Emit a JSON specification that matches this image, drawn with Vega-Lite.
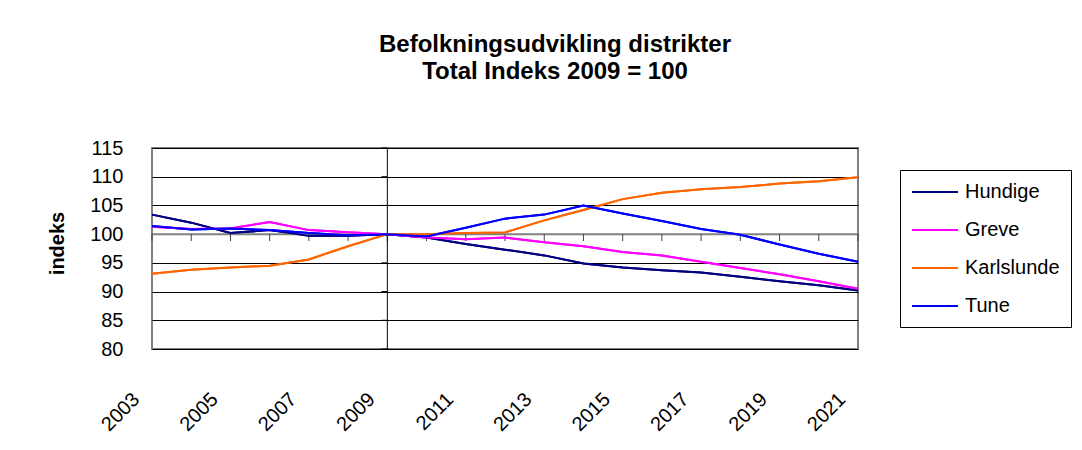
{
  "$schema": "https://vega.github.io/schema/vega-lite/v6.json",
  "autosize": "none",
  "width": 706,
  "height": 201,
  "padding": {"left": 152, "top": 148, "right": 224, "bottom": 101},
  "background": "white",
  "config": {
    "font": "Liberation Sans",
    "view": {"stroke": "#808080", "strokeWidth": 2},
    "axisY": {"tickCount": 8, "labelOverlap": false, "labelFlush": false}
  },
  "title": {
    "text": ["Befolkningsudvikling distrikter", "Total Indeks 2009 = 100"],
    "font": "Liberation Sans",
    "fontSize": 24,
    "fontWeight": "bold",
    "color": "black",
    "lineHeight": 27,
    "anchor": "middle",
    "dx": 50,
    "offset": 54
  },
  "datasets": {
    "series": [
      {"year": 2003, "series": "Hundige", "value": 103.4},
      {"year": 2004, "series": "Hundige", "value": 102.0},
      {"year": 2005, "series": "Hundige", "value": 100.2},
      {"year": 2006, "series": "Hundige", "value": 100.7},
      {"year": 2007, "series": "Hundige", "value": 99.7},
      {"year": 2008, "series": "Hundige", "value": 99.7},
      {"year": 2009, "series": "Hundige", "value": 100.0},
      {"year": 2010, "series": "Hundige", "value": 99.4},
      {"year": 2011, "series": "Hundige", "value": 98.3},
      {"year": 2012, "series": "Hundige", "value": 97.3},
      {"year": 2013, "series": "Hundige", "value": 96.3},
      {"year": 2014, "series": "Hundige", "value": 94.9},
      {"year": 2015, "series": "Hundige", "value": 94.2},
      {"year": 2016, "series": "Hundige", "value": 93.7},
      {"year": 2017, "series": "Hundige", "value": 93.3},
      {"year": 2018, "series": "Hundige", "value": 92.6},
      {"year": 2019, "series": "Hundige", "value": 91.8},
      {"year": 2020, "series": "Hundige", "value": 91.1},
      {"year": 2021, "series": "Hundige", "value": 90.2},
      {"year": 2003, "series": "Greve", "value": 101.3},
      {"year": 2004, "series": "Greve", "value": 100.9},
      {"year": 2005, "series": "Greve", "value": 101.0},
      {"year": 2006, "series": "Greve", "value": 102.1},
      {"year": 2007, "series": "Greve", "value": 100.7},
      {"year": 2008, "series": "Greve", "value": 100.35},
      {"year": 2009, "series": "Greve", "value": 100.0},
      {"year": 2010, "series": "Greve", "value": 99.4},
      {"year": 2011, "series": "Greve", "value": 99.1},
      {"year": 2012, "series": "Greve", "value": 99.4},
      {"year": 2013, "series": "Greve", "value": 98.6},
      {"year": 2014, "series": "Greve", "value": 97.9},
      {"year": 2015, "series": "Greve", "value": 96.9},
      {"year": 2016, "series": "Greve", "value": 96.3},
      {"year": 2017, "series": "Greve", "value": 95.2},
      {"year": 2018, "series": "Greve", "value": 94.1},
      {"year": 2019, "series": "Greve", "value": 93.0},
      {"year": 2020, "series": "Greve", "value": 91.8},
      {"year": 2021, "series": "Greve", "value": 90.5},
      {"year": 2003, "series": "Karlslunde", "value": 93.1},
      {"year": 2004, "series": "Karlslunde", "value": 93.8},
      {"year": 2005, "series": "Karlslunde", "value": 94.2},
      {"year": 2006, "series": "Karlslunde", "value": 94.5},
      {"year": 2007, "series": "Karlslunde", "value": 95.6},
      {"year": 2008, "series": "Karlslunde", "value": 97.9},
      {"year": 2009, "series": "Karlslunde", "value": 100.0},
      {"year": 2010, "series": "Karlslunde", "value": 100.0},
      {"year": 2011, "series": "Karlslunde", "value": 100.2},
      {"year": 2012, "series": "Karlslunde", "value": 100.3},
      {"year": 2013, "series": "Karlslunde", "value": 102.4},
      {"year": 2014, "series": "Karlslunde", "value": 104.2},
      {"year": 2015, "series": "Karlslunde", "value": 106.1},
      {"year": 2016, "series": "Karlslunde", "value": 107.2},
      {"year": 2017, "series": "Karlslunde", "value": 107.8},
      {"year": 2018, "series": "Karlslunde", "value": 108.2},
      {"year": 2019, "series": "Karlslunde", "value": 108.8},
      {"year": 2020, "series": "Karlslunde", "value": 109.2},
      {"year": 2021, "series": "Karlslunde", "value": 109.9},
      {"year": 2003, "series": "Tune", "value": 101.4},
      {"year": 2004, "series": "Tune", "value": 100.8},
      {"year": 2005, "series": "Tune", "value": 101.0},
      {"year": 2006, "series": "Tune", "value": 100.7},
      {"year": 2007, "series": "Tune", "value": 100.2},
      {"year": 2008, "series": "Tune", "value": 99.8},
      {"year": 2009, "series": "Tune", "value": 100.0},
      {"year": 2010, "series": "Tune", "value": 99.6},
      {"year": 2011, "series": "Tune", "value": 101.1},
      {"year": 2012, "series": "Tune", "value": 102.7},
      {"year": 2013, "series": "Tune", "value": 103.4},
      {"year": 2014, "series": "Tune", "value": 105.0},
      {"year": 2015, "series": "Tune", "value": 103.6},
      {"year": 2016, "series": "Tune", "value": 102.3},
      {"year": 2017, "series": "Tune", "value": 100.9},
      {"year": 2018, "series": "Tune", "value": 99.9},
      {"year": 2019, "series": "Tune", "value": 98.2},
      {"year": 2020, "series": "Tune", "value": 96.6},
      {"year": 2021, "series": "Tune", "value": 95.2}
    ],
    "levels": [
      {"level": 80}, {"level": 85}, {"level": 90}, {"level": 95},
      {"level": 100}, {"level": 105}, {"level": 110}, {"level": 115}
    ]
  },
  "layer": [
    {
      "data": {"name": "series"},
      "mark": {"type": "line", "strokeWidth": 2},
      "encoding": {
        "x": {
          "field": "year", "type": "quantitative",
          "scale": {"domain": [2003, 2021], "nice": false, "zero": false},
          "axis": {
            "title": null,
            "values": [2003, 2005, 2007, 2009, 2011, 2013, 2015, 2017, 2019, 2021],
            "format": "d",
            "labelAngle": -45,
            "labelAlign": "right",
            "labelBaseline": "middle",
            "labelPadding": 47,
            "labelOffset": -16,
            "labelFont": "Liberation Sans",
            "labelFontSize": 20,
            "labelColor": "black",
            "ticks": false,
            "domain": false,
            "grid": false,
            "labelOverlap": false
          }
        },
        "y": {
          "field": "value", "type": "quantitative",
          "scale": {"domain": [80, 115], "nice": false, "zero": false},
          "axis": {
            "title": "indeks",
            "titleFont": "Liberation Sans",
            "titleFontSize": 20,
            "titleFontWeight": "bold",
            "titleColor": "black",
            "titleX": -95,
            "titleY": 95,
            "titleAlign": "center",
            "titleBaseline": "middle",
            "titleAngle": -90,
            "values": [80, 85, 90, 95, 100, 105, 110, 115],
            "tickCount": 8,
            "labelOverlap": false,
            "labelFont": "Liberation Sans",
            "labelFontSize": 20,
            "labelColor": "black",
            "labelPadding": 29,
            "ticks": false,
            "domain": false,
            "grid": true,
            "gridColor": "black",
            "gridWidth": 1,
            "gridOpacity": 1
          }
        },
        "color": {
          "field": "series", "type": "nominal",
          "scale": {
            "domain": ["Hundige", "Greve", "Karlslunde", "Tune"],
            "range": ["#000080", "#FF00FF", "#FF6600", "#0000FF"]
          },
          "legend": {
            "title": null,
            "orient": "none",
            "legendX": 748,
            "legendY": 22,
            "strokeColor": "black",
            "fillColor": "white",
            "padding": 11,
            "symbolType": "M-1,0H3.6",
            "symbolSize": 400,
            "symbolStrokeWidth": 2,
            "labelOffset": 32,
            "labelFont": "Liberation Sans",
            "labelFontSize": 20,
            "labelColor": "black",
            "rowPadding": 17
          }
        }
      }
    },
    {
      "data": {"name": "levels"},
      "transform": [{"filter": "datum.level === 100"}],
      "mark": {"type": "rule", "color": "#808080", "strokeWidth": 2},
      "encoding": {
        "y": {"field": "level", "type": "quantitative"}
      }
    },
    {
      "data": {"name": "series"},
      "transform": [{"filter": "datum.series === 'Hundige'"}],
      "mark": {"type": "rule", "color": "#404040", "strokeWidth": 1},
      "encoding": {
        "x": {"field": "year", "type": "quantitative"},
        "y": {"datum": 100, "type": "quantitative"},
        "y2": {"datum": 98.8}
      }
    },
    {
      "data": {"name": "levels"},
      "mark": {"type": "rule", "color": "black", "strokeWidth": 1},
      "encoding": {
        "x": {"datum": 2008.85, "type": "quantitative"},
        "x2": {"datum": 2009},
        "y": {"field": "level", "type": "quantitative"}
      }
    },
    {
      "data": {"name": "levels"},
      "transform": [{"filter": "datum.level === 100"}],
      "mark": {"type": "rule", "color": "black", "strokeWidth": 1},
      "encoding": {
        "x": {"datum": 2009, "type": "quantitative"}
      }
    },
    {
      "data": {"name": "series"},
      "mark": {"type": "line", "strokeWidth": 2},
      "encoding": {
        "x": {"field": "year", "type": "quantitative"},
        "y": {"field": "value", "type": "quantitative"},
        "color": {"field": "series", "type": "nominal"}
      }
    }
  ]
}
